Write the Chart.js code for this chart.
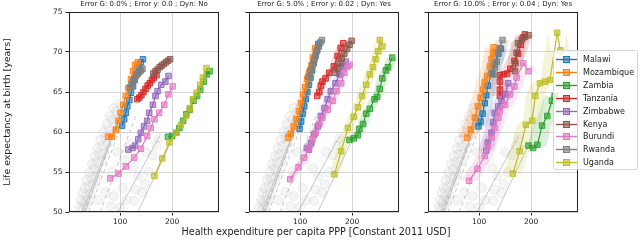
<!DOCTYPE html>
<html><head><meta charset="utf-8">
<script src="https://cdn.jsdelivr.net/npm/chart.js@4.4.1/dist/chart.umd.min.js"></script>
<style>
html,body{margin:0;padding:0;background:#fff;}
#wrap{position:relative;width:640px;height:240px;overflow:hidden;}
canvas{position:absolute;left:0;top:0;}
#xt{position:absolute;left:0;width:632px;top:226px;text-align:center;font-family:'DejaVu Sans';font-size:9.6px;color:#222;line-height:12px;white-space:nowrap;}
</style></head><body>
<div id="wrap">
<canvas id="c1" width="640" height="240"></canvas>
<canvas id="c2" width="640" height="240"></canvas>
<canvas id="c3" width="640" height="240"></canvas>
<div id="xt">Health expenditure per capita PPP [Constant 2011 USD]</div>
</div>
<script>
// ---------------- DATA ----------------
const countries = ['Malawi','Mozambique','Zambia','Tanzania','Zimbabwe','Kenya','Burundi','Rwanda','Uganda'];
const panelTitles = ['Error G: 0.0% ; Error y: 0.0 ; Dyn: No','Error G: 5.0% ; Error y: 0.02 ; Dyn: Yes','Error G: 10.0% ; Error y: 0.04 ; Dyn: Yes'];
const xTicks = [100, 200];
const yTicks = [50, 55, 60, 65, 70, 75];
const yTitle = 'Life expectancy at birth [years]';

// Panel 1: health expenditure (x) and life expectancy (y) per country
const exp1 = [
  [104,108,111,114,118,121,125,128,132,136,140,144],
  [77,84,92,97,101,106,111,116,121,125,129,134],
  [192,200,208,214,221,227,234,241,248,254,261,267,272],
  [133,137,141,145,149,153,157,161,165,170],
  [116,124,129,135,140,146,152,156,163,168,172,179,187,193],
  [164,168,172,176,180,184,188,192,196],
  [81,97,111,127,140,152,159,166,175,185,193,201],
  [119,122,125,128,131,134,137,140,143],
  [166,181,195,208,217,227,234,240,247,254,259,266]
];
const life1 = [
  [60.8,61.6,62.4,63.2,64.0,64.9,65.7,66.5,67.3,68.1,68.7,69.1],
  [59.4,59.4,60.3,61.4,62.4,63.4,64.5,65.5,66.6,67.6,68.4,68.7],
  [59.4,59.5,59.9,60.5,61.4,62.2,62.8,63.9,64.5,65.3,66.3,67.2,67.6],
  [64.1,64.3,64.6,65.0,65.4,65.8,66.1,66.5,66.8,67.1],
  [57.8,58.0,58.3,59.1,59.9,60.7,61.4,62.4,63.4,64.5,65.1,65.9,66.3,67.0],
  [67.3,67.6,67.8,68.1,68.3,68.5,68.7,68.9,69.1],
  [54.2,54.8,55.7,56.8,57.9,59.5,60.5,61.6,62.4,63.4,64.7,65.7],
  [65.6,66.0,66.4,66.7,67.0,67.3,67.5,67.7,67.9],
  [54.5,56.7,58.7,59.9,60.9,62.0,63.0,64.1,64.9,65.9,66.8,68.0]
];
// Panel 2
const exp2 = [
  [99,102,105,108,111,114,117,120,123,126,129,132,135],
  [77,82,88,93,98,102,106,110,114,118,122,125,129],
  [195,203,211,214,221,227,234,243,248,253,258,265,269,277],
  [133,137,140,143,149,156,165,172,178,183],
  [113,117,121,127,134,140,147,153,159,168,176,183,188],
  [168,172,176,180,185,190,195,199],
  [81,97,108,117,124,130,137,143,153,163,170,179,185,192,195],
  [116,120,124,127,130,133,136,139,142],
  [166,179,192,203,211,219,227,234,240,245,250,253,258]
];
const life2 = [
  [60.4,61.3,62.3,63.2,64.1,65.0,65.9,66.8,67.7,68.6,69.4,70.2,71.0],
  [59.3,59.8,60.7,61.6,62.6,63.6,64.7,65.6,66.6,67.5,68.3,69.3,70.5],
  [59.0,59.2,59.6,60.4,61.0,62.3,62.9,64.1,64.4,65.4,66.7,67.7,68.1,69.3],
  [64.5,65.0,65.8,66.3,66.7,67.4,68.2,69.5,70.5,71.1],
  [58.0,57.8,58.6,59.7,60.7,62.0,63.0,64.1,65.1,66.1,67.2,68.2,68.8],
  [67.4,68.0,68.6,69.2,69.8,70.4,70.9,71.4],
  [54.1,55.6,56.8,58.0,59.1,59.9,61.0,61.8,62.8,63.9,65.1,66.1,67.4,68.2,68.4],
  [66.9,67.7,68.4,69.0,69.6,70.2,70.7,71.2,71.5],
  [54.7,57.6,60.5,61.9,63.1,64.5,65.9,67.2,68.1,69.1,70.1,71.5,70.7]
];
// Panel 3
const exp3 = [
  [99,103,107,111,114,117,124,130,137,142],
  [77,84,92,98,103,108,111,116,121,124,127,128],
  [195,204,212,221,231,240,245],
  [140,140,140,140,147,154,160,168,175,180,184,188],
  [114,117,124,127,130,137,143,151,156],
  [169,170,172,175,182,188,195],
  [81,97,111,117,124,130,137,140,150,159,168,172,185,195],
  [127,130,134,137,140,145],
  [165,178,190,202,208,217,227,236,250,256]
];
const life3 = [
  [60.7,61.3,62.3,63.6,64.6,65.8,67.3,68.5,69.8,70.4],
  [59.3,60.3,61.8,63.2,64.3,65.3,66.2,67.0,68.2,69.1,69.9,70.6],
  [58.3,58.0,58.4,60.8,62.0,63.9,64.5],
  [64.5,65.3,66.3,67.1,67.2,67.3,67.9,68.9,69.8,70.9,71.8,72.2],
  [57.7,58.7,59.9,61.2,62.4,63.2,63.9,64.7,66.1],
  [67.6,68.6,69.9,71.1,71.5,71.9,72.1],
  [53.9,55.4,57.0,58.2,59.3,60.5,61.8,62.6,63.4,64.7,65.7,66.8,68.6,67.6],
  [67.2,68.0,68.8,69.9,70.5,71.5],
  [54.8,57.6,60.9,61.4,64.5,66.1,66.3,66.5,72.4,70.2]
];
// Uncertainty band half-widths (health expenditure units) for panels 2 and 3
const band2 = [7,8,10,9,8,9,8,8,10];
const band3 = [15,17,18,16,15,15,16,13,18];

// Background countries (grey)
const bgX = [22,25,27,28,30,32,33,35,36,38,40,41,43,45,46,48,50,52,53,55,57,58,60,62,64,66,68,70,72,74,76,78,80,83,85,88,90,93,97,100,
             58,72,88,105,112,127,142,147,155,163,170,175,110,125,100,150,85,120,95,135,82,130];
const bgY = [50.6,51.5,50.3,52.4,51.2,53.0,50.8,52.0,54.0,51.5,53.2,55.0,52.3,54.2,56.0,53.5,55.4,57.0,54.3,56.2,58.0,55.0,57.2,59.0,56.3,58.2,60.0,57.3,59.3,61.0,58.5,60.2,62.0,59.7,61.5,63.0,60.8,62.5,61.8,63.5,
             51.5,52.5,52.0,53.0,51.5,51.4,52.4,53.5,55.0,57.1,58.3,59.2,56.5,55.5,50.6,57.5,55.0,58.5,57.5,54.5,50.7,52.8];
const bgLineX = [[27,105],[33,96],[40,112],[62,130],[96,176],[134,196],[30,88]];
const bgLineY = [[50,63],[50,61.5],[50,62.5],[50,62],[50,59.5],[50,58.5],[50,59.5]];

// ---------------- STYLE / LAYOUT ----------------
const colors = ['#1f77b4','#ff7f0e','#2ca02c','#d62728','#9467bd','#8c564b','#e377c2','#7f7f7f','#bcbd22'];
const bgLineDashed = [false,false,true,true,false,false,true];
const F = 'DejaVu Sans';
const lefts = [69,249,428];
const rights = [219,399,578];
const expAll = [exp1,exp2,exp3];
const lifeAll = [life1,life2,life3];
const bandAll = [null,band2,band3];

function rgba(hex,a){const n=parseInt(hex.slice(1),16);return `rgba(${n>>16},${(n>>8)&255},${n&255},${a})`;}

function makeDatasets(p){
  const ds=[];
  const X=expAll[p], Y=lifeAll[p];
  countries.forEach((name,i)=>{
    ds.push({label:name,data:X[i].map((x,j)=>({x,y:Y[i][j]})),showLine:true,tension:0,
      borderColor:colors[i],borderWidth:1.2,backgroundColor:rgba(colors[i],0.6),
      pointBackgroundColor:rgba(colors[i],0.6),pointBorderColor:colors[i],pointBorderWidth:0.9,
      pointStyle:'rect',pointRadius:3.9,order:20-i});
  });
  const bw=bandAll[p];
  if(bw){
    countries.forEach((name,i)=>{
      const pts=X[i].map((x,j)=>({x:x-bw[i],y:Y[i][j]}));
      for(let j=X[i].length-1;j>=0;j--) pts.push({x:X[i][j]+bw[i],y:Y[i][j]});
      ds.push({label:'band '+name,data:pts,showLine:true,tension:0,fill:'shape',
        backgroundColor:rgba(colors[i],0.17),borderColor:'rgba(0,0,0,0)',borderWidth:1,pointRadius:0,order:40});
    });
  }
  bgLineX.forEach((lx,k)=>{
    ds.push({label:'other line',data:lx.map((x,j)=>({x,y:bgLineY[k][j]})),showLine:true,
      borderColor:'rgba(175,175,175,0.7)',borderWidth:1,borderDash:bgLineDashed[k]?[4,3]:[],pointRadius:0,order:60});
  });
  ds.push({label:'other countries',data:bgX.map((x,j)=>({x,y:bgY[j]})),showLine:false,pointStyle:'circle',
    pointRadius:4.5,backgroundColor:'rgba(210,210,210,0.22)',borderColor:'rgba(190,190,190,0.3)',borderWidth:0.8,order:70});
  return ds;
}

const spinePlugin={id:'spines',afterDraw(chart){
  const {ctx,chartArea:a}=chart;ctx.save();ctx.strokeStyle='#222';ctx.lineWidth=1;
  ctx.strokeRect(a.left+0.5,a.top+0.5,a.right-a.left-1,a.bottom-a.top-1);ctx.restore();}};

const legendPlugin={id:'lg',afterDraw(chart){
  const ctx=chart.ctx;ctx.save();
  const bx=553.5,by=50.5,bwid=84,bh=119,r=2;
  ctx.beginPath();ctx.moveTo(bx+r,by);ctx.lineTo(bx+bwid-r,by);ctx.quadraticCurveTo(bx+bwid,by,bx+bwid,by+r);
  ctx.lineTo(bx+bwid,by+bh-r);ctx.quadraticCurveTo(bx+bwid,by+bh,bx+bwid-r,by+bh);ctx.lineTo(bx+r,by+bh);
  ctx.quadraticCurveTo(bx,by+bh,bx,by+bh-r);ctx.lineTo(bx,by+r);ctx.quadraticCurveTo(bx,by,bx+r,by);ctx.closePath();
  ctx.fillStyle='rgba(255,255,255,0.8)';ctx.fill();ctx.strokeStyle='#d6d6d6';ctx.lineWidth=1;ctx.stroke();
  ctx.font='8px "DejaVu Sans"';ctx.textBaseline='middle';ctx.textAlign='left';
  countries.forEach((c,i)=>{
    const y=Math.round(59+i*12.9)+0.5;
    ctx.strokeStyle=colors[i];ctx.lineWidth=1.4;ctx.beginPath();ctx.moveTo(556,y);ctx.lineTo(577,y);ctx.stroke();
    ctx.fillStyle=rgba(colors[i],0.6);ctx.fillRect(563.5,y-3,6,6);ctx.strokeStyle=colors[i];ctx.lineWidth=1;ctx.strokeRect(563.5,y-3,6,6);
    ctx.fillStyle='#222';ctx.fillText(c,583,y);
  });
  ctx.restore();}};

function makeChart(p){
  const gridOpts={color:'#d6d6d6',lineWidth:1,tickColor:'#222',tickLength:3.5,drawTicks:true};
  return new Chart(document.getElementById('c'+(p+1)),{
    type:'scatter',
    data:{datasets:makeDatasets(p)},
    options:{
      responsive:false,animation:false,events:[],
      layout:{padding:{left:0,right:640-rights[p],top:0,bottom:0}},
      plugins:{
        legend:{display:false},tooltip:{enabled:false},
        title:{display:true,text:panelTitles[p],fullSize:false,color:'#222',font:{family:F,size:7,weight:'normal'},padding:{top:0.3,bottom:3.3}}
      },
      scales:{
        x:{type:'linear',min:2,max:290,
          afterBuildTicks:s=>{s.ticks=xTicks.map(v=>({value:v}));},
          afterFit:s=>{s.height=28;},
          ticks:{font:{family:F,size:7.5},color:'#222',padding:2,maxRotation:0,autoSkip:false},
          grid:gridOpts,border:{display:false}},
        y:{type:'linear',min:50,max:75,
          afterBuildTicks:s=>{s.ticks=yTicks.map(v=>({value:v}));},
          afterFit:s=>{s.width=lefts[p];},
          ticks:{display:p===0,font:{family:F,size:7.5},color:'#222',padding:3},
          grid:gridOpts,border:{display:false},
          title:{display:p===0,text:yTitle,color:'#222',font:{family:F,size:9.4},padding:{top:1.5,bottom:0}}}
      }
    },
    plugins:p===2?[spinePlugin,legendPlugin]:[spinePlugin]
  });
}
[0,1,2].forEach(makeChart);
</script>
</body></html>
